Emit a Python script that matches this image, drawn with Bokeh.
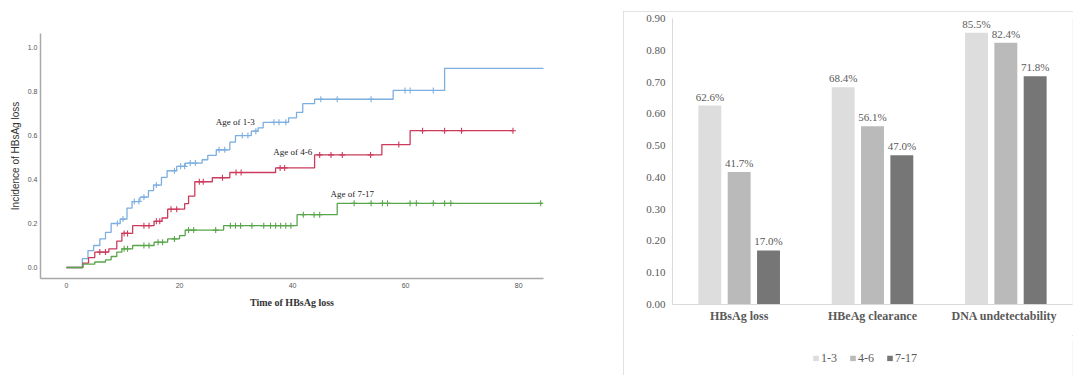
import numpy as np
from bokeh.plotting import figure
from bokeh.models import ColumnDataSource, FactorRange, PrintfTickFormatter, Spacer
from bokeh.transform import dodge
from bokeh.core.properties import value
from bokeh.layouts import row, column
from bokeh.embed import file_html
from bokeh.resources import INLINE

# ---------------- Left panel data (cumulative incidence, step curves) ----------------
blue_t = [0, 2.8, 3.8, 4.8, 5.9, 6.9, 7.9, 9.5, 10.7, 11.6, 13.0, 14.5, 15.4, 16.8, 17.8, 19.5, 21.0,
          24.0, 25.0, 26.5, 28.9, 29.9, 32.7, 33.9, 34.8, 39.3, 40.7, 41.8, 43.9, 57.8, 66.9, 85.0]
blue_y = [0, 0.04, 0.077, 0.10, 0.13, 0.16, 0.20, 0.22, 0.27, 0.30, 0.32, 0.35, 0.375, 0.41, 0.44, 0.46, 0.475,
          0.49, 0.51, 0.535, 0.57, 0.60, 0.62, 0.635, 0.66, 0.68, 0.705, 0.745, 0.765, 0.805, 0.905, 0.905]
blue_c = [9.0, 10.0, 12.0, 12.8, 13.7, 15.9, 19.1, 20.2, 20.9, 21.9, 22.8, 27.0, 28.0, 31.1, 32.1, 33.5,
          36.7, 37.6, 38.8, 45.0, 47.9, 53.9, 59.9, 60.8, 64.9]

red_t = [0, 2.9, 3.9, 5.0, 7.5, 8.9, 9.8, 11.7, 15.5, 16.9, 17.9, 20.9, 21.6, 22.7, 25.8, 28.9, 37.0,
         43.9, 55.8, 60.8, 79.0]
red_y = [0, 0.02, 0.045, 0.07, 0.085, 0.12, 0.155, 0.19, 0.21, 0.225, 0.265, 0.29, 0.325, 0.39, 0.408,
         0.432, 0.453, 0.512, 0.559, 0.622, 0.622]
red_c = [5.9, 6.9, 10.2, 10.8, 13.7, 14.6, 15.9, 16.5, 18.5, 19.5, 23.5, 24.2, 27.6, 30.0, 30.9, 37.8,
         38.6, 44.8, 46.8, 48.8, 53.8, 58.8, 63.0, 66.9, 69.9, 79.0]

green_t = [0, 2.9, 5.0, 6.9, 7.9, 8.9, 9.8, 11.7, 15.5, 17.9, 20.0, 21.0, 27.8, 40.8, 47.9, 84.2]
green_y = [0, 0.015, 0.025, 0.035, 0.05, 0.07, 0.085, 0.10, 0.115, 0.13, 0.145, 0.17, 0.19, 0.24,
           0.292, 0.292]
green_c = [10.2, 10.8, 13.7, 14.6, 16.2, 17.0, 19.1, 21.6, 22.5, 26.4, 29.0, 29.9, 30.8, 32.8, 34.9,
           36.1, 37.0, 37.9, 38.8, 39.7, 41.9, 43.8, 44.8, 50.9, 53.9, 55.9, 56.8, 60.8, 61.9, 64.9,
           66.9, 68.0, 83.9]

curve_names = ["Age of 1-3", "Age of 4-6", "Age of 7-17"]
x_ticks = [0, 20, 40, 60, 80]
y_ticks = [0.0, 0.2, 0.4, 0.6, 0.8, 1.0]

# ---------------- Right panel data (grouped bars) ----------------
categories = ["HBsAg loss", "HBeAg clearance", "DNA  undetectability"]
groups = ["1-3", "4-6", "7-17"]
age_1_3 = [0.626, 0.684, 0.855]
age_4_6 = [0.417, 0.561, 0.824]
age_7_17 = [0.170, 0.470, 0.718]
bar_ticks = [0.0, 0.1, 0.2, 0.3, 0.4, 0.5, 0.6, 0.7, 0.8, 0.9]

# ================= Left figure =================
p1 = figure(width=623, height=384, x_range=(-4.6, 84.4), y_range=(-0.05, 1.064),
            output_backend="svg", toolbar_location=None,
            min_border_left=40, min_border_right=80, min_border_top=33, min_border_bottom=106)
p1.grid.visible = False
p1.outline_line_color = None

colors = ["#7caee0", "#cc3b5c", "#5aa54b"]
series = [(blue_t, blue_y, blue_c), (red_t, red_y, red_c), (green_t, green_y, green_c)]
for (t, y, c), col in zip(series, colors):
    p1.step(t, y, mode="after", line_color=col, line_width=1.3)
    t_arr = np.array(t)
    y_arr = np.array(y)
    idx = np.searchsorted(t_arr, np.array(c), side="right") - 1
    p1.scatter(c, y_arr[idx], marker="cross", size=6, line_color=col, line_width=1.1)

label_x = [26.4, 36.6, 46.7]
label_y = [0.66, 0.524, 0.335]
p1.text(x=label_x, y=label_y, text=curve_names, text_font=value("Liberation Serif"),
        text_font_size="9px", text_color="#222222", text_baseline="middle", text_align="left")

for ax in (p1.xaxis[0], p1.yaxis[0]):
    ax.axis_line_color = "#a8a8a8"
    ax.axis_line_width = 1.5
    ax.major_tick_line_color = None
    ax.minor_tick_line_color = None
    ax.major_tick_out = 0
    ax.minor_tick_out = 0
    ax.major_label_text_font = "Liberation Sans"
    ax.major_label_text_font_size = "7px"
    ax.major_label_text_color = "#555555"

p1.xaxis.ticker = x_ticks
p1.yaxis.ticker = y_ticks
p1.yaxis.formatter = PrintfTickFormatter(format="%.1f")
p1.xaxis.major_label_standoff = 4
p1.yaxis.major_label_standoff = 3
p1.xaxis.axis_label = "Time of HBsAg loss"
p1.xaxis.axis_label_text_font = "Liberation Serif"
p1.xaxis.axis_label_text_font_style = "bold"
p1.xaxis.axis_label_text_font_size = "10px"
p1.xaxis.axis_label_text_color = "#333333"
p1.xaxis.axis_label_standoff = 6
p1.yaxis.axis_label = "Incidence of HBsAg loss"
p1.yaxis.axis_label_text_font = "Liberation Sans"
p1.yaxis.axis_label_text_font_style = "normal"
p1.yaxis.axis_label_text_font_size = "10px"
p1.yaxis.axis_label_text_color = "#333333"
p1.yaxis.axis_label_standoff = 4

# ================= Right figure (bars) =================
src = ColumnDataSource(dict(
    cat=categories, g1=age_1_3, g2=age_4_6, g3=age_7_17,
    l1=[f"{v*100:.1f}%" for v in age_1_3],
    l2=[f"{v*100:.1f}%" for v in age_4_6],
    l3=[f"{v*100:.1f}%" for v in age_7_17],
))

p2 = figure(width=450, height=324, x_range=FactorRange(*categories), y_range=(0, 0.9),
            output_backend="svg", toolbar_location=None,
            min_border_left=49, min_border_right=1, min_border_top=7, min_border_bottom=31)
p2.grid.visible = False
p2.outline_line_color = None
p2.x_range.range_padding = 0

bar_colors = ["#dddddd", "#bababa", "#767676"]
offsets = [-0.22, 0.0, 0.22]
cols = ["g1", "g2", "g3"]
lcols = ["l1", "l2", "l3"]
for off, c, lc, bc in zip(offsets, cols, lcols, bar_colors):
    p2.vbar(x=dodge("cat", off, range=p2.x_range), top=c, width=0.172, source=src,
            fill_color=bc, line_color=None)
    p2.text(x=dodge("cat", off, range=p2.x_range), y=c, text=lc, source=src,
            text_font=value("Liberation Serif"), text_font_size="11px", text_color="#595959",
            text_align="center", text_baseline="bottom", y_offset=-3)

p2.yaxis.ticker = bar_ticks
p2.yaxis.formatter = PrintfTickFormatter(format="%.2f")
for ax in (p2.xaxis[0], p2.yaxis[0]):
    ax.axis_line_color = "#d9d9d9"
    ax.axis_line_width = 1
    ax.major_tick_line_color = None
    ax.minor_tick_line_color = None
    ax.major_tick_out = 0
    ax.minor_tick_out = 0
    ax.major_label_text_color = "#595959"
    ax.major_label_text_font = "Liberation Serif"
p2.yaxis.major_label_text_font_size = "11px"
p2.yaxis.major_label_standoff = 7
p2.xaxis.major_label_text_font_size = "12px"
p2.xaxis.major_label_text_font_style = "bold"
p2.xaxis.major_label_standoff = 4

# ================= Legend strip under the bars =================
p3 = figure(width=450, height=40, x_range=FactorRange(*categories), y_range=(0, 1),
            output_backend="svg", toolbar_location=None,
            min_border_left=8, min_border_right=0, min_border_top=6, min_border_bottom=0)
p3.axis.visible = False
p3.grid.visible = False
p3.outline_line_color = None
for bc, g in zip(bar_colors, groups):
    # zero-height proxies: only their legend swatches are visible
    p3.vbar(x="cat", top=0, bottom=0, width=0.1, source=src, fill_color=bc, line_color=None,
            legend_label=g)
lg = p3.legend[0]
lg.orientation = "horizontal"
lg.location = "center_left"
lg.border_line_color = None
lg.background_fill_alpha = 0
lg.label_text_font = "Liberation Serif"
lg.label_text_font_size = "12px"
lg.label_text_color = "#595959"
lg.glyph_width = 7
lg.glyph_height = 7
lg.label_standoff = 2
lg.spacing = 8
lg.padding = 0
lg.margin = 140

inner = column(p2, p3, styles={"outline": "1px solid #d9d9d9", "outline-offset": "-1px"})
right = column(Spacer(width=450, height=11), inner)
layout = row(p1, right)
open("out.html", "w").write(file_html(layout, INLINE))
